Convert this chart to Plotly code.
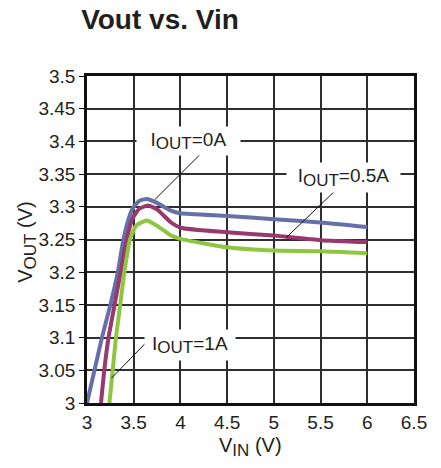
import plotly.graph_objects as go

# ---- data ----
x_0a = [3.0, 3.08, 3.16, 3.25, 3.33, 3.39, 3.44, 3.49, 3.56, 3.64, 3.75, 3.9, 4.0, 4.5, 5.0, 5.5, 6.0]
y_0a = [3.0, 3.05, 3.1, 3.15, 3.2, 3.25, 3.279, 3.298, 3.309, 3.312, 3.306, 3.294, 3.29, 3.286, 3.281, 3.276, 3.269]

x_05a = [3.15, 3.185, 3.23, 3.295, 3.36, 3.425, 3.49, 3.56, 3.655, 3.75, 3.9, 4.0, 4.5, 5.0, 5.5, 6.0]
y_05a = [3.0, 3.05, 3.1, 3.15, 3.2, 3.25, 3.283, 3.297, 3.302, 3.296, 3.276, 3.268, 3.261, 3.256, 3.249, 3.246]

x_1a = [3.24, 3.275, 3.31, 3.355, 3.40, 3.46, 3.53, 3.64, 3.75, 3.9, 4.0, 4.5, 5.0, 5.5, 6.0]
y_1a = [3.0, 3.05, 3.1, 3.15, 3.2, 3.25, 3.272, 3.279, 3.271, 3.256, 3.251, 3.238, 3.233, 3.232, 3.229]

x_ticks = [3, 3.5, 4, 4.5, 5, 5.5, 6, 6.5]
x_labels = ["3", "3.5", "4", "4.5", "5", "5.5", "6", "6.5"]
y_ticks = [3.0, 3.05, 3.1, 3.15, 3.2, 3.25, 3.3, 3.35, 3.4, 3.45, 3.5]
y_labels = ["3", "3.05", "3.1", "3.15", "3.2", "3.25", "3.3", "3.35", "3.4", "3.45", "3.5"]

SUB = "<sub><span style='font-size:17px'>OUT</span></sub>"
labels = ["I" + SUB + "=0A", "I" + SUB + "=0.5A", "I" + SUB + "=1A"]
label_pos = [(4.086, 3.4006), (5.743, 3.345), (4.102, 3.0887)]
label_box = [(103, 28), (113, 29), (90, 30)]
leader_from = [(4.28, 3.39), (5.703, 3.331), (3.691, 3.101)]
leader_to = [(3.726, 3.311), (5.133, 3.253), (3.262, 3.038)]

x_title = "V<sub><span style='font-size:17px'>IN</span></sub> (V)"
y_title = "V<sub><span style='font-size:17px'>OUT</span></sub> (V)"

colors = ["#6670a8", "#98386c", "#8dc63f"]
FONT = "Liberation Sans, Arial, sans-serif"
TXT = "#231f20"

# the page body has an 8px margin; size the figure to fit inside it
W, H = 425, 452
PW, PH = 327, 327  # plot area size in px

fig = go.Figure()
for xs, ys, c in [(x_0a, y_0a, colors[0]), (x_05a, y_05a, colors[1]), (x_1a, y_1a, colors[2])]:
    fig.add_trace(go.Scatter(x=xs, y=ys, mode="lines",
                             line=dict(color=c, width=4, shape="spline", smoothing=0.5),
                             showlegend=False, hoverinfo="skip"))

for (x0, y0), (x1, y1) in zip(leader_from, leader_to):
    fig.add_shape(type="line", x0=x0, y0=y0, x1=x1, y1=y1, xref="x", yref="y",
                  line=dict(color="#111111", width=1), layer="above")

for txt, (ax, ay), (w, h) in zip(labels, label_pos, label_box):
    fig.add_annotation(x=ax, y=ay, xref="x", yref="y", text=txt, showarrow=False,
                       bgcolor="white", width=w, height=h, borderpad=0,
                       font=dict(family=FONT, size=19, color=TXT),
                       xanchor="center", yanchor="middle", align="center")

# axis titles
fig.add_annotation(x=0.5, y=-44 / PH, xref="paper", yref="paper", text=x_title,
                   showarrow=False, xanchor="center", yanchor="middle",
                   font=dict(family=FONT, size=20, color=TXT))
fig.add_annotation(x=-60 / PW, y=0.49, xref="paper", yref="paper", text=y_title,
                   showarrow=False, xanchor="center", yanchor="middle", textangle=-90,
                   font=dict(family=FONT, size=20, color=TXT))

fig.update_layout(
    width=W, height=H,
    margin=dict(l=79, r=19, t=68, b=57, autoexpand=False),
    paper_bgcolor="white", plot_bgcolor="white",
    font=dict(family=FONT, color=TXT, size=19),
    title=dict(text="<b>Vout vs. Vin</b>", x=152 / W, xref="container", xanchor="center",
               y=1 - 11 / H, yref="container", yanchor="middle",
               font=dict(family=FONT, size=28, color=TXT)),
)
fig.update_xaxes(range=[3, 6.5], tickvals=x_ticks, ticktext=x_labels, automargin=False,
                 showgrid=True, gridcolor="#2e2e2e", gridwidth=1.6,
                 showline=True, linecolor="#111111", linewidth=2.5, mirror=True,
                 ticks="", zeroline=False, tickfont=dict(size=19, color=TXT))
fig.update_yaxes(range=[3, 3.5], tickvals=y_ticks, ticktext=y_labels, automargin=False,
                 showgrid=True, gridcolor="#2e2e2e", gridwidth=1.6,
                 showline=True, linecolor="#111111", linewidth=2.5, mirror=True,
                 ticks="outside", ticklen=5, tickcolor="#111111", tickwidth=1,
                 zeroline=False, tickfont=dict(size=19, color=TXT))

fig.write_html("out.html")
